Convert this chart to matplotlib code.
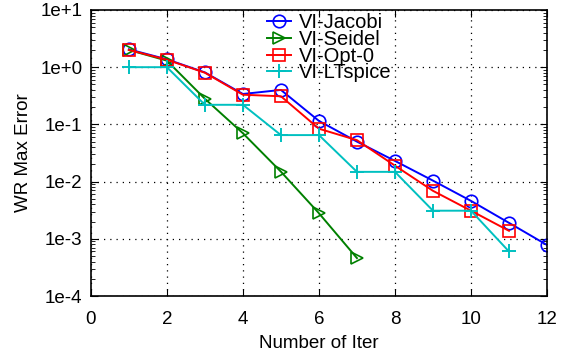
import matplotlib
matplotlib.use("Agg")
import matplotlib.pyplot as plt
from matplotlib.ticker import FixedLocator, LogLocator, NullFormatter

plt.rcParams['font.family'] = ['Liberation Sans', 'DejaVu Sans']

iters = [1, 2, 3, 4, 5, 6, 7, 8, 9, 10, 11, 12]
jacobi = [2.05, 1.37, 0.81, 0.34, 0.40, 0.115, 0.050, 0.023, 0.0104, 0.0046, 0.0019, 0.00078]
seidel = [2.0, 1.3, 0.28, 0.070, 0.0149, 0.0028, 0.00046]
opt0 = [2.0, 1.35, 0.80, 0.33, 0.31, 0.084, 0.053, 0.019, 0.0069, 0.0031, 0.00138]
ltspice = [1.0, 1.0, 0.22, 0.22, 0.065, 0.065, 0.0148, 0.0148, 0.0031, 0.0031, 0.0006]

labels = ['VI-Jacobi', 'VI-Seidel', 'VI-Opt-0', 'VI-LTspice']
xticks = [0, 2, 4, 6, 8, 10, 12]
yticks = [1e-4, 1e-3, 1e-2, 1e-1, 1e0, 1e1]
yticklabels = ['1e-4', '1e-3', '1e-2', '1e-1', '1e+0', '1e+1']

fig = plt.figure(figsize=(5.68, 3.56), dpi=100)
ax = fig.add_axes([0.160, 0.1685, 0.803, 0.8035])

lw = 1.4
ax.plot(iters[:len(jacobi)], jacobi, color='#0000ff', lw=lw, marker='o', ms=9,
        mfc='none', mew=1.2, label=labels[0])
ax.plot(iters[:len(seidel)], seidel, color='#008000', lw=lw, marker='>', ms=9,
        mfc='none', mew=1.2, label=labels[1])
ax.plot(iters[:len(opt0)], opt0, color='#ff0000', lw=lw, marker='s', ms=9,
        mfc='none', mew=1.2, label=labels[2])
ax.plot(iters[:len(ltspice)], ltspice, color='#00c0c0', lw=lw, marker='+', ms=10,
        mew=1.4, label=labels[3])

ax.set_yscale('log')
ax.set_xlim(0, 12)
ax.set_ylim(1e-4, 1e1)
ax.xaxis.set_major_locator(FixedLocator(xticks))
ax.set_yticks(yticks)
ax.set_yticklabels(yticklabels)
ax.yaxis.set_minor_locator(LogLocator(base=10, subs=range(2, 10)))
ax.yaxis.set_minor_formatter(NullFormatter())

ax.tick_params(axis='both', which='both', direction='in', top=True, right=True,
               labelsize=13.5, color='black')
ax.tick_params(axis='both', which='major', length=5, width=0.8)
ax.tick_params(axis='y', which='major', pad=6)
ax.tick_params(axis='x', which='major', pad=11)
ax.tick_params(axis='y', which='minor', length=3, width=0.6)

ax.grid(True, which='major', color='black', linestyle=(0, (1, 4)), linewidth=0.9)
for s in ax.spines.values():
    s.set_linewidth(1.2)

ax.set_xlabel('Number of Iter', fontsize=13.5, labelpad=5)
ax.set_ylabel('WR Max Error', fontsize=13.5, labelpad=6)

leg = ax.legend(loc='upper left', bbox_to_anchor=(0.36, 1.03), frameon=False,
                fontsize=14.5, handlelength=1.2, handletextpad=0.4,
                labelspacing=-0.12, borderaxespad=0.2)

fig.savefig('out.png', dpi=100)
